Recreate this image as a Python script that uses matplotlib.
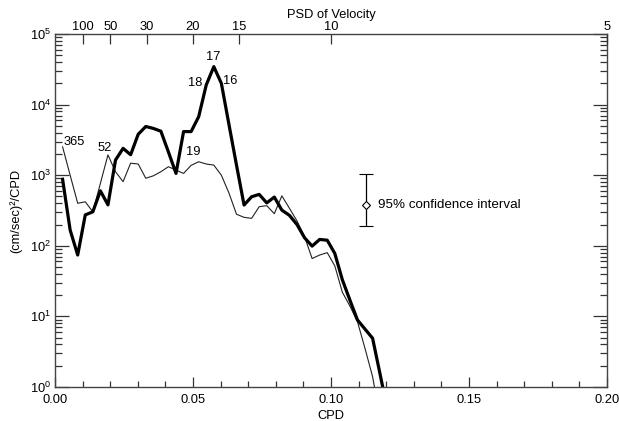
import numpy as np
import matplotlib
matplotlib.use("Agg")
import matplotlib.pyplot as plt
from matplotlib.ticker import LogLocator, MultipleLocator, NullFormatter, NullLocator

plt.rcParams['font.family'] = ['Liberation Sans', 'DejaVu Sans']

# frequency index k -> frequency k/365 CPD
k_thick = np.arange(1, 45)
psd_thick = [875, 167, 74, 274, 303, 600, 380, 1640, 2400, 1950,
             3800, 4900, 4600, 4200, 2130, 1060, 4150, 4150, 6750, 19000,
             34500, 20000, 5250, 1390, 378, 495, 535, 405, 490, 320,
             270, 200, 130, 99, 123, 120, 78, 33, 17, 8.9,
             6.6, 4.9, 1.5, 0.45]
k_thin = np.arange(1, 44)
psd_thin = [2520, 1000, 400, 420, 303, 767, 1940, 1120, 810, 1480,
            1440, 905, 980, 1120, 1320, 1180, 1060, 1380, 1550, 1440,
            1390, 1000, 560, 280, 253, 245, 358, 370, 285, 510,
            340, 225, 135, 66, 74, 80, 52, 22, 14, 8.4,
            3.5, 1.4, 0.35]

freq_thick = k_thick / 365.0
freq_thin = k_thin / 365.0

period_ticks = [100, 50, 30, 20, 15, 10, 5]
peak_labels = ['365', '52', '19', '17', '18', '16']
peak_pos = [(0.0069, 2970), (0.018, 2460), (0.050, 2130),
            (0.0574, 46800), (0.0507, 20200), (0.0634, 21900)]

ci_x = 0.1125
ci_mid = 374
ci_low = 193
ci_high = 1025

fig = plt.figure(figsize=(6.19, 4.21), dpi=100)
ax = fig.add_axes([0.0889, 0.0808, 0.8917, 0.8384])

ax.plot(freq_thin, psd_thin, color='#222222', lw=0.8)
ax.plot(freq_thick, psd_thick, color='black', lw=2.3)

ax.set_yscale('log')
ax.set_xlim(0, 0.2)
ax.set_ylim(1, 1e5)

ax.xaxis.set_major_locator(MultipleLocator(0.05))
ax.xaxis.set_minor_locator(MultipleLocator(0.01))
ax.xaxis.set_major_formatter(matplotlib.ticker.FormatStrFormatter('%.2f'))
ax.yaxis.set_major_locator(LogLocator(base=10, numticks=10))
ax.yaxis.set_minor_locator(LogLocator(base=10, subs=np.arange(2, 10), numticks=20))
ax.yaxis.set_minor_formatter(NullFormatter())

ax.tick_params(axis='x', which='major', direction='in', length=7, width=0.9,
               top=False, bottom=True, labelsize=9.3, pad=5, colors='#333333')
ax.tick_params(axis='x', which='minor', direction='in', length=4, width=0.9,
               top=False, bottom=True, colors='#333333')
ax.tick_params(axis='y', which='major', direction='in', length=10, width=0.9,
               left=True, right=True, labelsize=9.3, pad=3, colors='#333333')
ax.tick_params(axis='y', which='minor', direction='in', length=5, width=0.9,
               left=True, right=True, colors='#333333')
for lab in ax.get_xticklabels() + ax.get_yticklabels():
    lab.set_color('black')
for sp in ax.spines.values():
    sp.set_color('#444444')
    sp.set_linewidth(1.0)

ax.set_xlabel('CPD', fontsize=9.3, labelpad=3)
ax.set_ylabel('(cm/sec)²/CPD', fontsize=9.3, labelpad=5)

# top axis: period in days
top = ax.twiny()
top.set_xlim(ax.get_xlim())
top.set_xticks([1.0 / p for p in period_ticks])
top.set_xticklabels([str(p) for p in period_ticks])
top.xaxis.set_minor_locator(NullLocator())
top.tick_params(axis='x', direction='in', length=7, width=0.9, labelsize=9.3,
                pad=1, colors='#333333', labelcolor='black')
for sp in top.spines.values():
    sp.set_visible(False)
top.set_title('PSD of Velocity', fontsize=9.3, pad=-1)

for txt, (x, y) in zip(peak_labels, peak_pos):
    ax.text(x, y, txt, ha='center', va='center', fontsize=9.3)

ax.errorbar([ci_x], [ci_mid], yerr=[[ci_mid - ci_low], [ci_high - ci_mid]],
            fmt='D', ms=4, mfc='white', mec='black', mew=0.8,
            ecolor='black', elinewidth=0.9, capsize=5, capthick=0.9)
ax.text(0.1169, ci_mid, '95% confidence interval', ha='left', va='center', fontsize=9.6)

fig.savefig('out.png', dpi=100)
